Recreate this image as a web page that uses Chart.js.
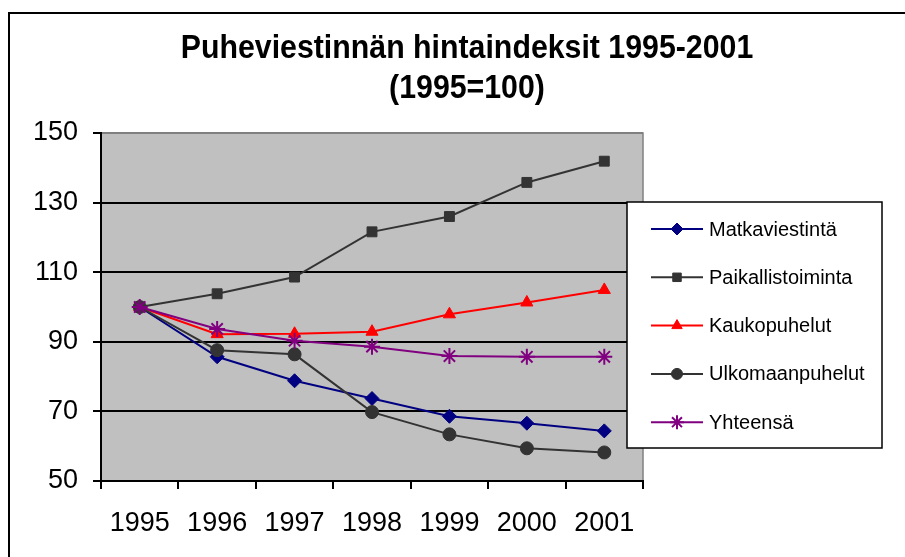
<!DOCTYPE html>
<html>
<head>
<meta charset="utf-8">
<script src="https://cdn.jsdelivr.net/npm/chart.js@4"></script>
<style>
  html, body { margin: 0; padding: 0; background: #fff; }
  #wrap { width: 905px; height: 557px; }
</style>
</head>
<body>
<div id="wrap"><canvas id="chart" width="905" height="557"></canvas></div>
<script>
// -----------------------------
// DATA
// -----------------------------
const years = ['1995', '1996', '1997', '1998', '1999', '2000', '2001'];
const matkaviestinta = [100, 85.7, 78.8, 73.7, 68.6, 66.6, 64.4];
const paikallistoiminta = [100, 103.8, 108.6, 121.6, 126.0, 135.8, 141.9];
const kaukopuhelut = [100, 92.2, 92.3, 92.9, 97.9, 101.3, 104.9];
const ulkomaanpuhelut = [100, 87.6, 86.4, 69.8, 63.4, 59.4, 58.2];
const yhteensa = [100, 93.7, 90.3, 88.6, 85.9, 85.7, 85.7];
const yTicks = [50, 70, 90, 110, 130, 150];
const titleLines = ['Puheviestinnän hintaindeksit 1995-2001', '(1995=100)'];

const FONT = "'Liberation Sans', Arial, sans-serif";

function series(label, data, color, style, radius, bw) {
  return {
    label,
    data,
    borderColor: color,
    backgroundColor: color,
    pointBackgroundColor: color,
    pointBorderColor: color,
    pointStyle: style,
    pointRadius: radius,
    pointBorderWidth: bw || 1,
    borderWidth: 2,
    tension: 0
  };
}

const datasets = [
  series('Matkaviestintä', matkaviestinta, '#000080', 'rectRot', 7),
  series('Paikallistoiminta', paikallistoiminta, '#333333', 'rect', 7),
  series('Kaukopuhelut', kaukopuhelut, '#ff0000', 'triangle', 7),
  series('Ulkomaanpuhelut', ulkomaanpuhelut, '#333333', 'circle', 6.5),
  series('Yhteensä', yhteensa, '#800080', 'star', 8, 2)
];
// excel draws the later series on top
datasets.forEach((d, i) => { d.order = datasets.length - i; });

// -----------------------------
// FRAME + PLOT BACKGROUND + TITLE
// -----------------------------
const framePlugin = {
  id: 'frame',
  beforeDraw(chart) {
    const { ctx, chartArea: a } = chart;
    ctx.save();
    ctx.fillStyle = '#fff';
    ctx.fillRect(0, 0, chart.width, chart.height);
    ctx.strokeStyle = '#000';
    ctx.lineWidth = 2;
    ctx.strokeRect(9, 13, 1000, 1000);
    ctx.fillStyle = '#c0c0c0';
    ctx.fillRect(a.left, a.top, a.right - a.left, a.bottom - a.top);
    ctx.strokeStyle = '#808080';
    ctx.lineWidth = 1.5;
    ctx.strokeRect(a.left, a.top, a.right - a.left, a.bottom - a.top);

    // title, a bit taller than plain arial like the original
    ctx.fillStyle = '#000';
    ctx.font = 'bold 30px ' + FONT;
    ctx.textAlign = 'center';
    ctx.textBaseline = 'alphabetic';
    [[titleLines[0], 58], [titleLines[1], 98]].forEach(([txt, y]) => {
      ctx.save();
      ctx.translate(467, y);
      ctx.scale(1.01, 1.1);
      ctx.fillText(txt, 0, 0);
      ctx.restore();
    });
    ctx.restore();
  }
};

// -----------------------------
// LEGEND (overlaps plot area like the excel one)
// -----------------------------
const legendPlugin = {
  id: 'boxLegend',
  afterDraw(chart) {
    const { ctx } = chart;
    const box = { x: 627, y: 202, w: 255, h: 246 };
    ctx.save();
    ctx.fillStyle = '#fff';
    ctx.fillRect(box.x, box.y, box.w, box.h);
    ctx.strokeStyle = '#000';
    ctx.lineWidth = 1.5;
    ctx.strokeRect(box.x, box.y, box.w, box.h);

    chart.data.datasets.forEach((ds, i) => {
      const cy = 229 + i * 48.3;
      ctx.strokeStyle = ds.borderColor;
      ctx.lineWidth = 2;
      ctx.beginPath();
      ctx.moveTo(651, cy);
      ctx.lineTo(703, cy);
      ctx.stroke();
      ctx.fillStyle = ds.pointBackgroundColor;
      ctx.strokeStyle = ds.pointBorderColor;
      ctx.lineWidth = ds.pointBorderWidth;
      Chart.helpers.drawPoint(ctx, {
        pointStyle: ds.pointStyle,
        radius: ds.pointRadius - 1,
        borderWidth: ds.pointBorderWidth,
        rotation: 0
      }, 677, cy);

      ctx.fillStyle = '#000';
      ctx.font = '20px ' + FONT;
      ctx.textAlign = 'left';
      ctx.textBaseline = 'middle';
      ctx.fillText(ds.label, 709, cy + 1);
    });
    ctx.restore();
  }
};

// -----------------------------
// CHART
// -----------------------------
new Chart(document.getElementById('chart'), {
  type: 'line',
  data: { labels: years, datasets },
  plugins: [framePlugin, legendPlugin],
  options: {
    responsive: false,
    animation: false,
    devicePixelRatio: 1,
    layout: { padding: { top: 133, right: 262, bottom: 0, left: 0 } },
    plugins: {
      legend: { display: false },
      title: { display: false },
      tooltip: { enabled: false }
    },
    scales: {
      x: {
        offset: true,
        grid: {
          offset: true,
          drawOnChartArea: false,
          drawTicks: true,
          tickLength: 8,
          color: '#000',
          lineWidth: 2
        },
        border: { color: '#000', width: 2 },
        ticks: {
          color: '#000',
          font: { family: FONT, size: 27 },
          padding: 18,
          maxRotation: 0,
          autoSkip: false
        },
        afterFit(scale) { scale.height = 76; }
      },
      y: {
        min: 50,
        max: 150,
        afterBuildTicks(scale) { scale.ticks = yTicks.map(v => ({ value: v })); },
        grid: {
          color: c => (c.tick && c.tick.value === 150 ? '#808080' : '#000'),
          tickColor: '#000',
          lineWidth: 2,
          tickLength: 8
        },
        border: { color: '#000', width: 2 },
        ticks: {
          color: '#000',
          font: { family: FONT, size: 27 },
          padding: 15
        },
        afterFit(scale) { scale.width = 101; }
      }
    }
  }
});
</script>
</body>
</html>
